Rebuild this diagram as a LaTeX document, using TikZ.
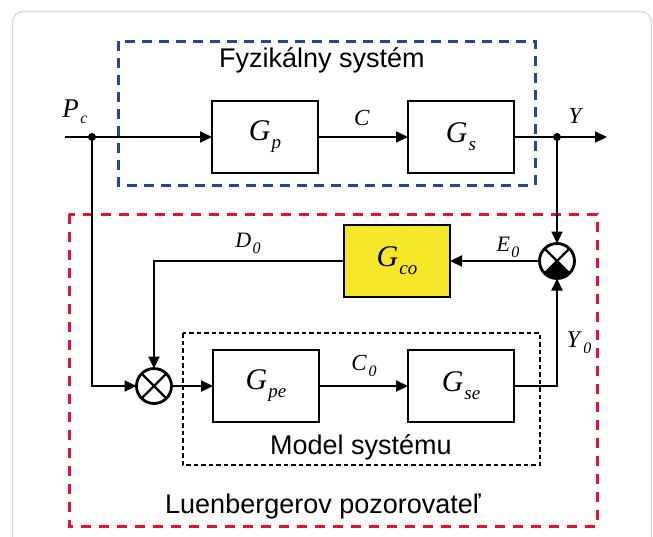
\documentclass[tikz,border=0pt]{standalone}
\usepackage{fontspec}
\setmainfont{Liberation Serif}
\newfontfamily\labsans{Liberation Sans}
\usetikzlibrary{arrows.meta}
\definecolor{bluebox}{RGB}{40,68,150}
\definecolor{redbox}{RGB}{230,18,48}
\definecolor{yelbox}{RGB}{245,230,40}
\definecolor{cardgray}{RGB}{215,215,215}
\newcommand{\gl}[2]{{\fontsize{30}{30}\selectfont\textit{#1}}\kern1pt\raisebox{-8pt}{\fontsize{19}{19}\selectfont\textit{#2}}}
\newcommand{\siglab}[3]{{\fontsize{#3}{#3}\selectfont\textit{#1}}\kern1.5pt\raisebox{-6pt}{\fontsize{16}{16}\selectfont\textit{#2}}}
\begin{document}
\begin{tikzpicture}[x=1pt,y=-1pt,
  blk/.style={draw,line width=2.8pt,minimum width=106pt,minimum height=72pt,inner sep=0pt,outer sep=0pt},
  sumc/.style={draw,circle,line width=2.8pt,minimum size=35pt,inner sep=0pt,outer sep=0pt},
  wire/.style={line width=2.2pt},
  arr/.style={wire,-{Triangle[length=12pt,width=11pt]}},
  dotc/.style={circle,fill,inner sep=0pt,minimum size=8pt},
  lbl/.style={inner sep=0pt},
  ttl/.style={inner sep=0pt,font=\labsans\fontsize{27}{27}\selectfont}]
\useasboundingbox (0,0) rectangle (653,536);
% card
\draw[cardgray,line width=1.2pt,rounded corners=11pt] (12.5,11.5) rectangle (651.5,548);
% frames
\draw[bluebox,line width=3pt,dash pattern=on 10pt off 7pt] (118,41) rectangle (535,185);
\draw[redbox,line width=3pt,dash pattern=on 10pt off 8pt] (69,214) rectangle (597,526);
\draw[line width=1.1pt,dash pattern=on 4.5pt off 3pt] (183,333) rectangle (540,465);
% titles
\node[ttl] (t1) at (322,60) {Fyzikálny systém};
\node[ttl] (t2) at (361,447) {Model systému};
\node[ttl] (t3) at (323,507) {Luenbergerov pozorovateľ};
% blocks
\node[blk] (Gp) at (265,137) {\gl{G}{p}};
\node[blk] (Gs) at (461,137) {\gl{G}{s}};
\node[blk,fill=yelbox] (Gco) at (397,261) {\gl{G}{co}};
\node[blk] (Gpe) at (266,386) {\gl{G}{pe}};
\node[blk] (Gse) at (461,386) {\gl{G}{se}};
\node[sumc] (sL) at (154,386) {};
\node[sumc] (sR) at (557,261) {};
\draw[line width=2.4pt] (sL.north west) -- (sL.south east) (sL.north east) -- (sL.south west);
\draw[line width=2.4pt] (sR.north west) -- (sR.south east) (sR.north east) -- (sR.south west);
\fill (sR.center) -- (sR.south east) arc[start angle=-45,end angle=-135,radius=17.5pt] -- cycle;
% points
\coordinate (in) at (65,137);
\coordinate (out) at (607,137);
\node[dotc] (dP) at (92,137) {};
\node[dotc] (dY) at (557,137) {};
% wires
\draw[arr] (in) -- (Gp.west);
\draw[arr] (Gp.east) -- (Gs.west);
\draw[arr] (Gs.east) -- (out);
\draw[arr] (dY.center) -- (sR.north);
\draw[arr] (sR.west) -- (Gco.east);
\draw[arr] (Gco.west) -| (sL.north);
\draw[arr] (dP.center) |- (sL.west);
\draw[arr] (sL.east) -- (Gpe.west);
\draw[arr] (Gpe.east) -- (Gse.west);
\draw[arr] (Gse.east) -| (sR.south);
% signal labels
\node[lbl] (lPc) at (75,112) {\siglab{P}{c}{27}};
\node[lbl] (lC) at (362,118) {{\fontsize{23}{23}\selectfont\textit{C}}};
\node[lbl] (lY) at (576,116) {{\fontsize{23}{23}\selectfont\textit{Y}}};
\node[lbl] (lD) at (248,243) {\siglab{D}{0}{22}};
\node[lbl] (lE) at (508,247) {\siglab{E}{0}{22}};
\node[lbl] (lY0) at (579,343) {\siglab{Y}{0}{24}};
\node[lbl] (lC0) at (364,366) {\siglab{C}{0}{23}};
\end{tikzpicture}
\end{document}
